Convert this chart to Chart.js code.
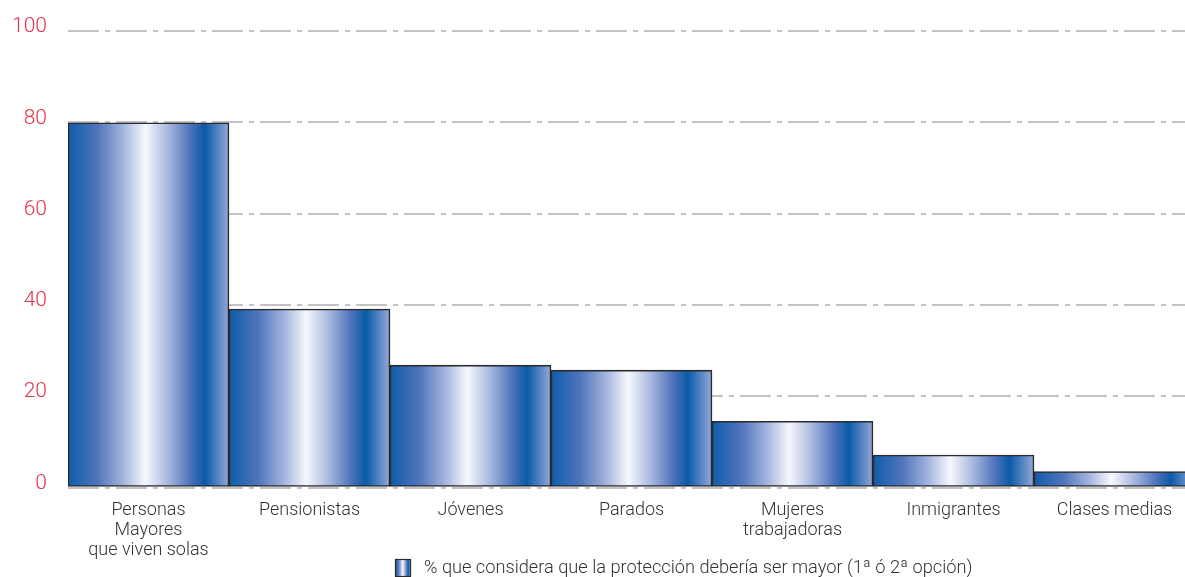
<!DOCTYPE html>
<html><head><meta charset="utf-8">
<script src="https://cdn.jsdelivr.net/npm/chart.js@4.4.0/dist/chart.umd.min.js"></script>
<style>html,body{margin:0;padding:0;overflow:hidden;background:#fff}</style>
</head><body>
<canvas id="c" width="1196" height="577" style="display:block;width:1196px;height:577px"></canvas>
<script>
const categories = [["Personas","Mayores","que viven solas"],"Pensionistas","Jóvenes","Parados",["Mujeres","trabajadoras"],"Inmigrantes","Clases medias"];
const values = [79.9, 39.1, 26.8, 25.7, 14.5, 7.1, 3.5];
const seriesLabel = "% que considera que la protección debería ser mayor (1ª ó 2ª opción)";
const yTicks = [0, 20, 40, 60, 80, 100];

const FONT = "'Roboto', 'Liberation Sans', sans-serif";

function makeGrad(g, x0, x1) {
  const gr = g.createLinearGradient(x0, 0, x1, 0);
  gr.addColorStop(0.00, '#0d5cab');
  gr.addColorStop(0.18, '#4f74bb');
  gr.addColorStop(0.34, '#a2b3dc');
  gr.addColorStop(0.48, '#f6f8fd');
  gr.addColorStop(0.62, '#a9b8de');
  gr.addColorStop(0.76, '#4d72ba');
  gr.addColorStop(0.85, '#0a5aa8');
  gr.addColorStop(1.00, '#95a9d8');
  return gr;
}

const legendPlugin = {
  id: 'customLegend',
  afterDraw(chart) {
    const g = chart.ctx;
    g.save();
    const bx = 395.5, by = 559.5, bw = 15, bh = 17;
    g.fillStyle = makeGrad(g, bx, bx + bw);
    g.fillRect(bx, by, bw, bh);
    g.lineWidth = 1.2;
    g.strokeStyle = '#2a2a2a';
    g.strokeRect(bx, by, bw, bh);
    g.fillStyle = '#333333';
    g.font = "300 18.2px " + FONT;
    g.textBaseline = 'middle';
    g.textAlign = 'left';
    g.fillText(seriesLabel, 424, 568);
    g.restore();
  }
};

new Chart(document.getElementById('c'), {
  type: 'bar',
  data: {
    labels: categories,
    datasets: [{
      label: seriesLabel,
      data: values,
      barPercentage: 1,
      categoryPercentage: 1,
      borderWidth: 1.6,
      borderColor: '#2a2a2a',
      borderSkipped: false,
      backgroundColor: (ctx) => {
        const chart = ctx.chart;
        const xs = chart.scales && chart.scales.x;
        if (!chart.chartArea || !xs || ctx.type !== 'data') return '#4f74bb';
        const w = xs.width / categories.length;
        const cx = xs.getPixelForValue(ctx.dataIndex);
        return makeGrad(chart.ctx, cx - w / 2, cx + w / 2);
      }
    }]
  },
  options: {
    responsive: false,
    animation: false,
    layout: { padding: { top: 31, right: 1, left: 0, bottom: 0 } },
    plugins: {
      legend: { display: false },
      tooltip: { enabled: false }
    },
    scales: {
      x: {
        offset: true,
        grid: { display: false, drawTicks: false },
        border: { display: false },
        ticks: {
          color: '#333333',
          font: { family: FONT, size: 18, weight: '300', lineHeight: 1.1 },
          padding: 13,
          maxRotation: 0,
          autoSkip: false
        },
        afterFit(s) { s.height = 89.5; s.paddingLeft = 0; s.paddingRight = 0; }
      },
      y: {
        min: 0, max: 100,
        afterBuildTicks(s) { s.ticks = yTicks.map(v => ({ value: v })); },
        grid: { color: '#c3c3c7', lineWidth: 2, drawTicks: false, borderDash: [31, 6, 5, 6] },
        border: { display: false, dash: [31, 6, 5, 6] },
        ticks: {
          color: '#e8304a',
          font: { family: FONT, size: 21, weight: '300' },
          padding: 21,
          labelOffset: -4
        },
        afterFit(s) { s.width = 68; s.paddingTop = 0; s.paddingBottom = 0; }
      }
    }
  },
  plugins: [legendPlugin]
});
</script>
</body></html>
